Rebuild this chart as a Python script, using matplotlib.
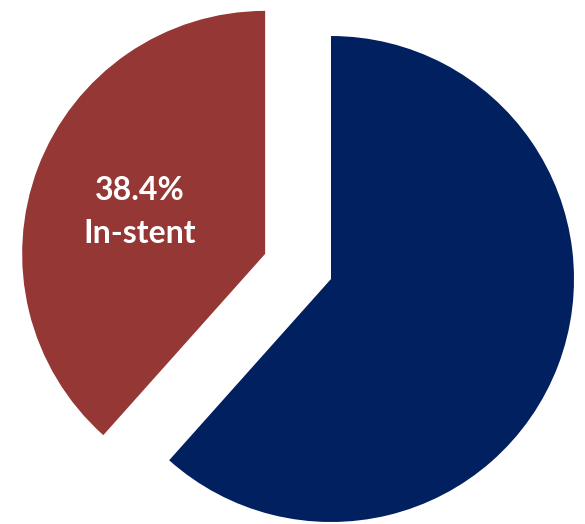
import matplotlib.pyplot as plt

# restenosis location split
labels = ["Other", "In-stent"]
shares = [61.6, 38.4]
colors = ["#002060", "#953735"]

W, H = 585, 524
R = 243
fig = plt.figure(figsize=(W / 100, H / 100), dpi=100)
ax = fig.add_axes([0, 0, 1, 1])

# explode is taken in data units here, so scale by the radius
ax.pie(shares, colors=colors, startangle=90, counterclock=False,
       explode=[0, 0.29 * R], center=(331, 245), radius=R,
       wedgeprops=dict(linewidth=0))

ax.text(140, 312, f"{shares[1]:.1f}%\n{labels[1]}", color="white",
        fontsize=23, fontweight="bold", family="Lato",
        ha="center", va="center", linespacing=1.6)

ax.set_xlim(0, W)
ax.set_ylim(0, H)
ax.set_aspect("equal")
ax.axis("off")

fig.savefig("out.png", dpi=100)
